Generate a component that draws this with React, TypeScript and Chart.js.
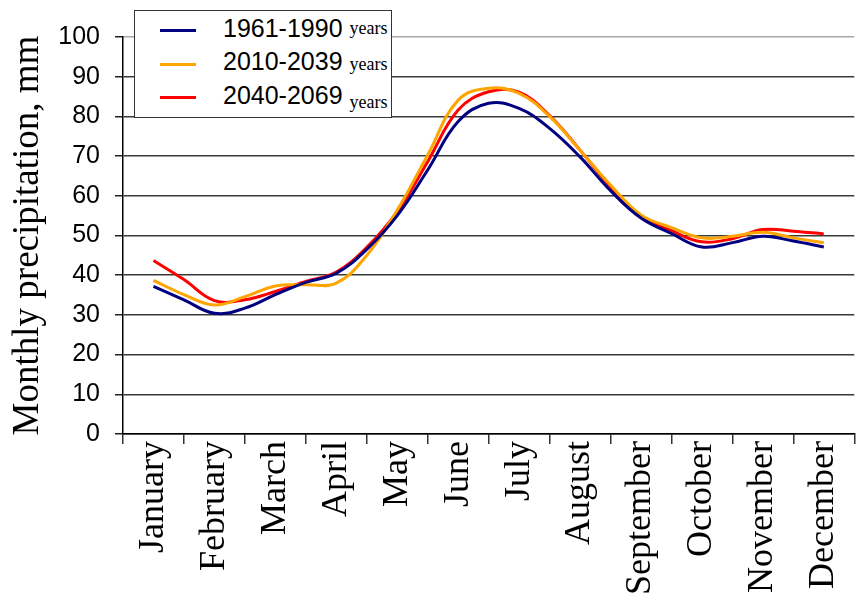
import { useEffect, useRef } from 'react';
import { Chart, registerables } from 'chart.js';

Chart.register(...registerables);

const months = [
  'January', 'February', 'March', 'April', 'May', 'June',
  'July', 'August', 'September', 'October', 'November', 'December',
];

const monthIndex = [0, 0.5, 1, 1.5, 2, 2.5, 3, 3.5, 4, 4.5, 5, 5.5, 6, 6.5, 7, 7.5, 8, 8.5, 9, 9.5, 10, 10.5, 11];

const precip1961_1990 = [37.2, 33.8, 30.4, 31.7, 35.1, 38.2, 40.5, 46.5, 55.0, 66.5, 78.7, 83.3, 82.0, 77.0, 69.8, 61.3, 54.4, 50.5, 47.1, 48.2, 49.8, 48.6, 47.1];
const precip2010_2039 = [38.7, 35.1, 32.5, 34.6, 37.3, 37.6, 38.0, 45.0, 56.4, 70.3, 84.1, 87.1, 85.8, 80.0, 71.5, 62.7, 55.2, 52.0, 49.4, 49.8, 50.8, 49.4, 48.2];
const precip2040_2069 = [43.7, 38.9, 33.6, 33.8, 35.9, 38.4, 40.8, 47.0, 56.0, 68.6, 81.6, 86.2, 86.1, 80.2, 71.5, 62.3, 54.8, 51.2, 48.4, 49.2, 51.5, 51.1, 50.4];

const seriesNames = ['1961-1990', '2010-2039', '2040-2069'];
const seriesColors = ['#000080', '#FFA500', '#FF0000'];
const yearsWord = 'years';
const yAxisTitle = 'Monthly precipitation, mm';
const yMin = 0;
const yMax = 100;
const yStep = 10;

export default function App() {
  const ref = useRef<HTMLCanvasElement>(null);

  useEffect(() => {
    document.body.style.margin = '0';
    const seriesValues = [precip1961_1990, precip2010_2039, precip2040_2069];
    const chart = new Chart(ref.current as HTMLCanvasElement, {
      type: 'line',
      data: {
        labels: months,
        datasets: seriesNames.map((name, i) => ({
          label: name,
          data: monthIndex.map((x, j) => ({ x, y: seriesValues[i][j] })),
          borderColor: seriesColors[i],
          backgroundColor: seriesColors[i],
          borderWidth: 3,
          pointRadius: 0,
          tension: 0.4,
          xAxisID: 'xData',
          yAxisID: 'y',
        })),
      },
      options: {
        animation: false,
        responsive: false,
        layout: { padding: { top: 37, left: 0, right: 0, bottom: 0 } },
        plugins: {
          legend: { display: false },
          tooltip: { enabled: false },
        },
        scales: {
          x: {
            type: 'category',
            offset: true,
            grid: {
              offset: true,
              drawOnChartArea: false,
              drawTicks: true,
              tickLength: 10,
              color: '#333',
              lineWidth: 1.5,
            },
            border: { color: '#000', width: 1.5 },
            ticks: {
              autoSkip: false,
              minRotation: 90,
              maxRotation: 90,
              padding: -3,
              color: '#000',
              font: { family: '"Liberation Serif", "Times New Roman", serif', size: 36 },
            },
            afterFit: (s: any) => { s.height = 167; },
          },
          xData: {
            type: 'linear',
            display: false,
            min: -0.5,
            max: 11.5,
          },
          y: {
            min: yMin,
            max: yMax,
            ticks: {
              stepSize: yStep,
              padding: 15,
              color: '#000',
              font: { family: '"Liberation Sans", Arial, sans-serif', size: 25 },
            },
            grid: {
              color: (c: any) => (c.tick && c.tick.value === yMax ? '#a8a8a8' : '#3a3a3a'),
              tickColor: '#222',
              tickLength: 8,
              lineWidth: 1.5,
            },
            border: { color: '#000', width: 1.5 },
            title: {
              display: true,
              text: yAxisTitle,
              color: '#000',
              font: { family: '"Liberation Serif", "Times New Roman", serif', size: 37 },
              padding: { top: 6, bottom: 0 },
            },
            afterFit: (s: any) => { s.width = 123; },
          },
        },
      },
    } as any);
    return () => chart.destroy();
  }, []);

  const yearsOffset = [-3, 0, 4];

  return (
    <div style={{ position: 'relative', width: 856, height: 601, overflow: 'hidden', background: '#fff' }}>
      <canvas ref={ref} width={864} height={601} style={{ display: 'block' }} />
      <div
        style={{
          position: 'absolute',
          left: 134,
          top: 10,
          width: 258,
          height: 108,
          border: '1.5px solid #333',
          background: '#fff',
          boxSizing: 'border-box',
        }}
      >
        {seriesNames.map((name, i) => (
          <div
            key={name}
            style={{
              position: 'absolute',
              left: 0,
              top: 3 + i * 33.5,
              height: 33,
              display: 'flex',
              alignItems: 'center',
              whiteSpace: 'nowrap',
            }}
          >
            <span style={{ display: 'inline-block', marginLeft: 25, width: 36, height: 3, background: seriesColors[i] }} />
            <span style={{ marginLeft: 27, color: '#000', lineHeight: '33px' }}>
              <span style={{ font: '25px "Liberation Sans", Arial, sans-serif', verticalAlign: 'baseline' }}>{name}</span>
              <span
                style={{
                  marginLeft: 7,
                  font: '18px "Liberation Serif", "Times New Roman", serif',
                  position: 'relative',
                  top: yearsOffset[i],
                }}
              >
                {yearsWord}
              </span>
            </span>
          </div>
        ))}
      </div>
    </div>
  );
}
